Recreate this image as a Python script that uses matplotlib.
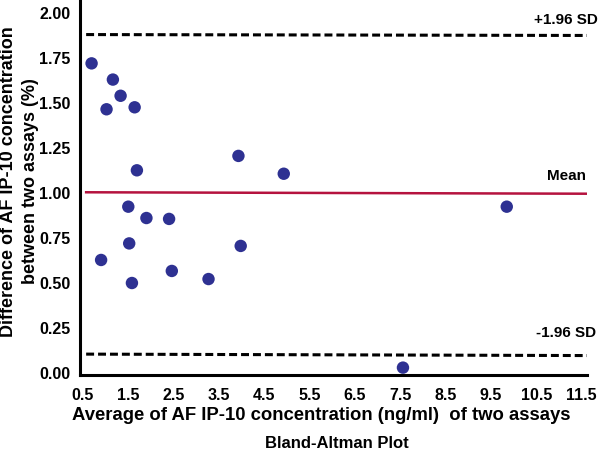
import matplotlib
matplotlib.use("Agg")
import matplotlib.pyplot as plt

# Data
avg_conc = [0.69, 1.16, 1.33, 1.02, 1.64, 1.69, 3.93, 4.93, 1.50, 1.90, 2.40,
            9.85, 0.90, 1.52, 1.58, 2.46, 3.27, 3.98, 7.56]
diff_conc = [1.72, 1.63, 1.54, 1.465, 1.476, 1.126, 1.206, 1.107, 0.924, 0.861, 0.856,
             0.924, 0.628, 0.72, 0.50, 0.567, 0.522, 0.706, 0.03]

line_x = [0.57, 11.62]
upper_sd = [1.88, 1.875]
mean_line = [1.004, 0.996]
lower_sd = [0.105, 0.097]

x_ticks = [0.5, 1.5, 2.5, 3.5, 4.5, 5.5, 6.5, 7.5, 8.5, 9.5, 10.5, 11.5]
y_ticks = [0.00, 0.25, 0.50, 0.75, 1.00, 1.25, 1.50, 1.75, 2.00]

plt.rcParams['font.family'] = ['Liberation Sans', 'DejaVu Sans']
plt.rcParams['font.weight'] = 'bold'

fig = plt.figure(figsize=(6, 4.54), dpi=100)
ax = fig.add_axes([0.1333, 0.174, 0.845, 0.826])

ax.plot(line_x, upper_sd, color='black', lw=2.2, dashes=(2.6, 1.3))
ax.plot(line_x, lower_sd, color='black', lw=2.2, dashes=(2.6, 1.3))
ax.plot(line_x, mean_line, color='#B5123E', lw=1.8)
ax.scatter(avg_conc, diff_conc, s=80, color='#2E3192', zorder=3, edgecolors='none')

ax.text(11.85, 1.96, '+1.96 SD', ha='right', va='center', fontsize=11, fontweight='bold')
ax.text(11.6, 1.095, 'Mean', ha='right', va='center', fontsize=11, fontweight='bold')
ax.text(11.82, 0.22, '-1.96 SD', ha='right', va='center', fontsize=11, fontweight='bold')

ax.set_xlim(0.434, 11.62)
ax.set_ylim(-0.011, 2.072)
ax.set_xticks(x_ticks)
ax.set_xticklabels([f'{v:.1f}' for v in x_ticks])
ax.set_yticks(y_ticks)
ax.set_yticklabels([f'{v:.2f}' for v in y_ticks])
ax.tick_params(length=0, labelsize=11.5, pad=7)
ax.tick_params(axis='x', pad=9)
for lab in ax.get_xticklabels() + ax.get_yticklabels():
    lab.set_fontweight('bold')

for s in ['top', 'right']:
    ax.spines[s].set_visible(False)
for s in ['left', 'bottom']:
    ax.spines[s].set_linewidth(2.2)

ax.set_xlabel('Average of AF IP-10 concentration (ng/ml)  of two assays',
              fontsize=13.3, fontweight='bold', labelpad=3)
ax.xaxis.set_label_coords(0.475, -0.085)

fig.text(9 / 600, 1 - 182 / 454, 'Difference of AF IP-10 concentration',
         rotation=90, ha='center', va='center', fontsize=13, fontweight='bold')
fig.text(31 / 600, 1 - 181 / 454, 'between two assays (%)',
         rotation=90, ha='center', va='center', fontsize=13, fontweight='bold')

fig.text(337 / 600, 1 - 443 / 454, 'Bland-Altman Plot', ha='center', va='center',
         fontsize=12, fontweight='bold')

fig.savefig('out.png', dpi=100)
